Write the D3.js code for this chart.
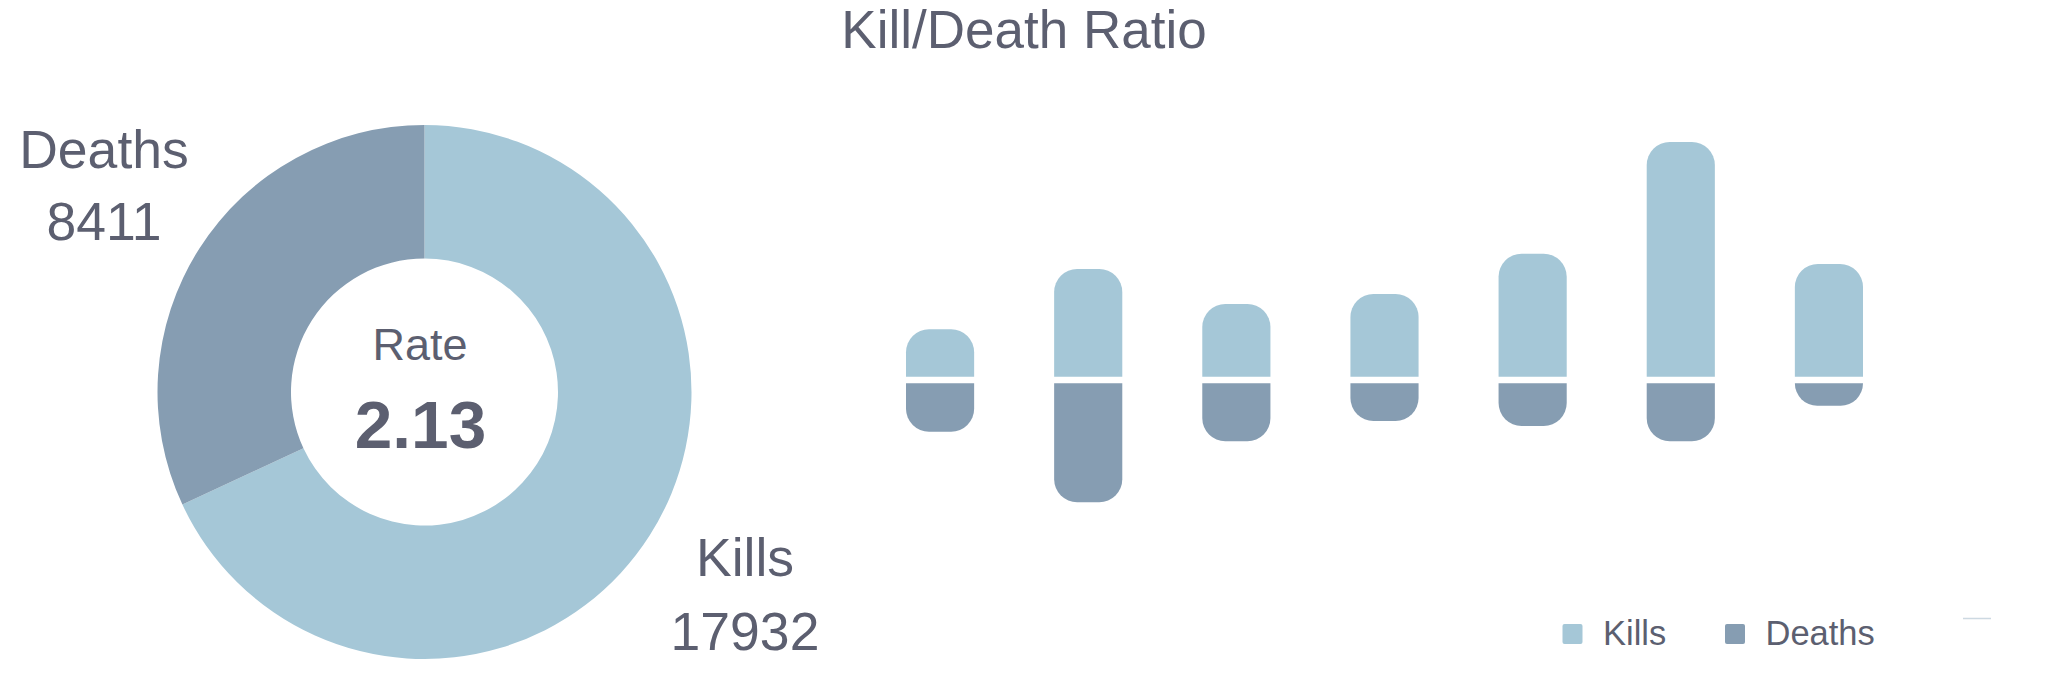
<!DOCTYPE html>
<html>
<head>
<meta charset="utf-8">
<script src="https://cdn.jsdelivr.net/npm/d3@7"></script>
<style>
html,body{margin:0;padding:0;background:#fff;}
svg{display:block;font-family:"Liberation Sans",Arial,sans-serif;}
</style>
</head>
<body>
<svg id="chart" width="2048" height="682"></svg>
<script>
// ---- data ----
const title = "Kill/Death Ratio";
const totalLabels = ["Kills", "Deaths"];
const totalValues = [17932, 8411];
const rateLabel = "Rate";
const rateValue = "2.13";
const periods = ["1", "2", "3", "4", "5", "6", "7"];
const killsSeries = [1130, 2475, 1695, 1918, 2816, 5307, 2587];
const deathsSeries = [1153, 2727, 1367, 914, 1026, 1367, 573];
const legendLabels = ["Kills", "Deaths"];

const colors = {Kills: "#a5c7d7", Deaths: "#869db2"};
const textColor = "#5c5f70";

const svg = d3.select("#chart");

// title
svg.append("text").attr("x", 1024).attr("y", 48).attr("text-anchor", "middle")
  .attr("font-size", 53).attr("fill", textColor).text(title);

// ---- donut ----
const cx = 424.5, cy = 392;
const pie = d3.pie().sort(null).value(d => d.v);
const arc = d3.arc().innerRadius(133.5).outerRadius(267);
const donutData = totalLabels.map((k, i) => ({k, v: totalValues[i]}));
const g = svg.append("g").attr("transform", `translate(${cx},${cy})`);
g.selectAll("path").data(pie(donutData)).join("path")
  .attr("d", arc).attr("fill", d => colors[d.data.k]);

svg.append("text").attr("x", 420).attr("y", 360).attr("text-anchor", "middle")
  .attr("font-size", 45).attr("fill", textColor).text(rateLabel);
svg.append("text").attr("x", 420.5).attr("y", 448).attr("text-anchor", "middle")
  .attr("font-size", 67.5).attr("font-weight", "bold").attr("fill", textColor).text(rateValue);

// slice labels
const labelPos = {Deaths: [104, 168, 240], Kills: [745, 576, 650]};
donutData.forEach(d => {
  const p = labelPos[d.k];
  svg.append("text").attr("x", p[0]).attr("y", p[1]).attr("text-anchor", "middle")
    .attr("font-size", 53.5).attr("fill", textColor).text(d.k);
  svg.append("text").attr("x", p[0]).attr("y", p[2]).attr("text-anchor", "middle")
    .attr("font-size", 53.5).attr("fill", textColor).text(d3.format("d")(d.v));
});

// ---- bars ----
const x = d3.scaleBand().domain(periods).range([866, 1903]).paddingInner(0.54).paddingOuter(0.27);
const y = d3.scaleLinear().domain([-d3.max(deathsSeries), d3.max(killsSeries)]).range([502.3, 142]);
const gap = 3.3, R = 23;

function barPath(x0, w, yBase, yEnd) {
  const up = yEnd < yBase;
  const h = Math.abs(yBase - yEnd);
  const r = Math.min(R, h, w / 2);
  const p = d3.path();
  p.moveTo(x0, yBase);
  if (up) {
    p.lineTo(x0, yEnd + r);
    p.arcTo(x0, yEnd, x0 + r, yEnd, r);
    p.lineTo(x0 + w - r, yEnd);
    p.arcTo(x0 + w, yEnd, x0 + w, yEnd + r, r);
  } else {
    p.lineTo(x0, yEnd - r);
    p.arcTo(x0, yEnd, x0 + r, yEnd, r);
    p.lineTo(x0 + w - r, yEnd);
    p.arcTo(x0 + w, yEnd, x0 + w, yEnd - r, r);
  }
  p.lineTo(x0 + w, yBase);
  p.closePath();
  return p.toString();
}

const y0 = y(0);
svg.append("g").selectAll("path").data(periods).join("path")
  .attr("fill", colors.Kills)
  .attr("d", (p, i) => barPath(x(p), x.bandwidth(), y0 - gap, y(killsSeries[i])));
svg.append("g").selectAll("path").data(periods).join("path")
  .attr("fill", colors.Deaths)
  .attr("d", (p, i) => barPath(x(p), x.bandwidth(), y0 + gap, y(-deathsSeries[i])));

// ---- legend ----
const legendX = [1562.5, 1725];
legendLabels.forEach((k, i) => {
  svg.append("rect").attr("x", legendX[i]).attr("y", 624).attr("width", 20).attr("height", 20)
    .attr("rx", 2).attr("fill", colors[k]);
  svg.append("text").attr("x", legendX[i] + 40.5).attr("y", 644.5).attr("font-size", 34.5)
    .attr("fill", textColor).text(k);
});

// faint artifact line
svg.append("line").attr("x1", 1963).attr("x2", 1991).attr("y1", 618.5).attr("y2", 618.5)
  .attr("stroke", "#b9c9d6").attr("stroke-width", 1.5).attr("opacity", 0.7);
</script>
</body>
</html>
